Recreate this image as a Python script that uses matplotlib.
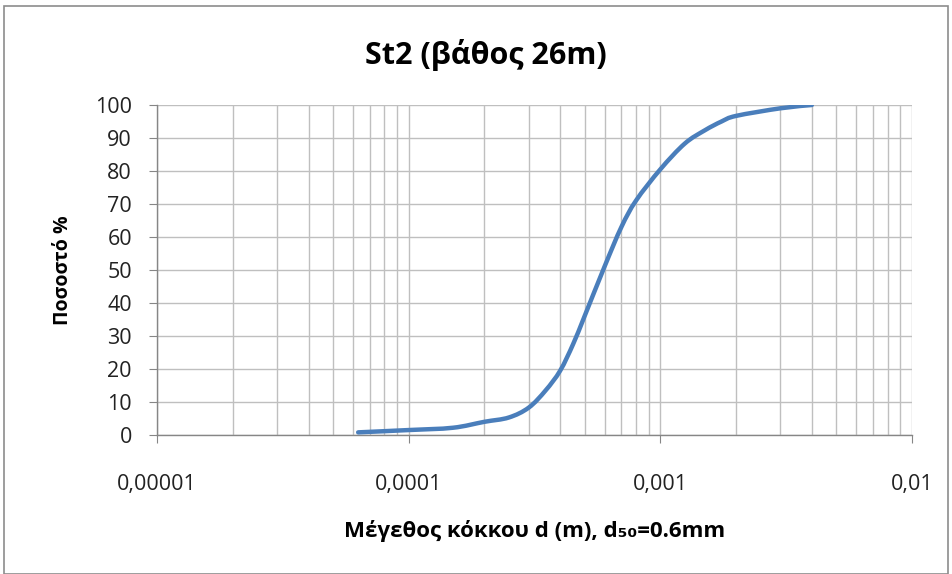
import numpy as np
import matplotlib
matplotlib.use("Agg")
import matplotlib.pyplot as plt
from matplotlib.patches import Rectangle, PathPatch
from matplotlib.path import Path
from matplotlib.ticker import FixedLocator, LogLocator, NullFormatter

# grain size (m) and cumulative passing (%)
grain_size = [6.3e-5, 1.0e-4, 1.5e-4, 2.0e-4, 2.5e-4, 3.0e-4, 3.5e-4, 4.0e-4, 4.5e-4, 5.0e-4,
              6.0e-4, 7.0e-4, 8.0e-4, 1.0e-3, 1.25e-3, 1.5e-3, 1.75e-3, 2.0e-3, 3.0e-3, 4.0e-3]
percent = [0.8, 1.5, 2.2, 4.0, 5.3, 8.3, 13.5, 19.5, 27.5, 36.0,
           51.0, 63.0, 71.0, 80.5, 88.3, 92.3, 95.0, 96.7, 99.0, 100.0]

x_ticks = [1e-5, 1e-4, 1e-3, 1e-2]
x_tick_labels = ["0,00001", "0,0001", "0,001", "0,01"]
y_ticks = list(range(0, 101, 10))

title = "St2 (βάθος 26m)"
xlabel = "Μέγεθος κόκκου d (m), d₅₀=0.6mm"
ylabel = "Ποσοστό %"


def smooth_path(xs, ys):
    """Excel-like smoothed line: cubic bezier segments, built in log-x space."""
    lx = np.log10(xs)
    ys = np.asarray(ys, dtype=float)
    n = len(lx)
    verts = [(xs[0], ys[0])]
    codes = [Path.MOVETO]
    for i in range(n - 1):
        i0, i3 = max(i - 1, 0), min(i + 2, n - 1)
        c1 = (lx[i] + (lx[i + 1] - lx[i0]) / 6, ys[i] + (ys[i + 1] - ys[i0]) / 6)
        c2 = (lx[i + 1] - (lx[i3] - lx[i]) / 6, ys[i + 1] - (ys[i3] - ys[i]) / 6)
        verts += [(10 ** c1[0], c1[1]), (10 ** c2[0], c2[1]), (xs[i + 1], ys[i + 1])]
        codes += [Path.CURVE4] * 3
    return Path(verts, codes)


plt.rcParams['font.family'] = ['Open Sans', 'DejaVu Sans']

fig = plt.figure(figsize=(9.52, 5.74), dpi=100)
ax = fig.add_axes([157 / 952, 1 - 435 / 574, (912 - 157) / 952, (435 - 105) / 574])

# chart area border
fig.patches.append(Rectangle((4 / 952, 0.0), 944 / 952, 1 - 6 / 574, transform=fig.transFigure,
                             fill=False, edgecolor="#8c8c8c", linewidth=1.2))

ax.add_patch(PathPatch(smooth_path(grain_size, percent), facecolor="none",
                       edgecolor="#4a7ebb", linewidth=3.2, capstyle="round", zorder=3))

ax.set_xscale("log")
ax.set_xlim(1e-5, 1e-2)
ax.set_ylim(0, 100)

ax.xaxis.set_major_locator(FixedLocator(x_ticks))
ax.set_xticklabels(x_tick_labels)
ax.xaxis.set_minor_locator(LogLocator(base=10, subs=range(2, 10)))
ax.xaxis.set_minor_formatter(NullFormatter())
ax.set_yticks(y_ticks)

ax.grid(True, which="major", color="#bfbfbf", linewidth=1.0)
ax.grid(True, which="minor", axis="x", color="#bfbfbf", linewidth=1.0)
ax.set_axisbelow(True)

for s in ["top", "right"]:
    ax.spines[s].set_visible(False)
for s in ["left", "bottom"]:
    ax.spines[s].set_color("#868686")
    ax.spines[s].set_linewidth(1.0)

ax.tick_params(axis="x", which="major", length=6, color="#868686", pad=22, labelsize=15.5,
               labelcolor="#222222")
ax.tick_params(axis="x", which="minor", length=0)
ax.tick_params(axis="y", length=6, color="#868686", pad=12, labelsize=15.5, labelcolor="#222222")

fig.text(486 / 952, 1 - 55 / 574, title, fontsize=22, fontweight="bold", ha="center", va="center")
ax.set_xlabel(xlabel, fontsize=16, fontweight="bold", labelpad=18)
ax.set_ylabel(ylabel, fontsize=14, fontweight="bold", labelpad=16)

fig.savefig("out.png", dpi=100)
